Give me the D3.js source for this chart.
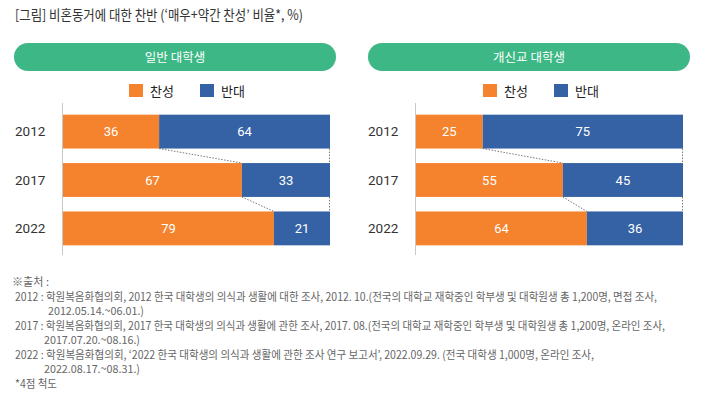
<!DOCTYPE html>
<html><head><meta charset="utf-8">
<script src="https://cdn.jsdelivr.net/npm/d3@7"></script>
<style>
body{margin:0;background:#fff;}
svg{display:block;font-family:"Noto Sans CJK KR","Noto Sans",sans-serif;}
</style></head>
<body>
<svg id="c" width="720" height="402"></svg>
<script>
const years = ["2012","2017","2022"];
const groups = ["일반 대학생","개신교 대학생"];
const agree = [[36,67,79],[25,55,64]];
const disagree = [[64,33,21],[75,45,36]];
const legendLabels = ["찬성","반대"];
const title = "[그림] 비혼동거에 대한 찬반 (‘매우+약간 찬성’ 비율*, %)";
const notes = [
  "※출처 :",
  "2012 : 학원복음화협의회, 2012 한국 대학생의 의식과 생활에 대한 조사, 2012. 10.(전국의 대학교 재학중인 학부생 및 대학원생 총 1,200명, 면접 조사,",
  "2012.05.14.~06.01.)",
  "2017 : 학원복음화협의회, 2017 한국 대학생의 의식과 생활에 관한 조사, 2017. 08.(전국의 대학교 재학중인 학부생 및 대학원생 총 1,200명, 온라인 조사,",
  "2017.07.20.~08.16.)",
  "2022 : 학원복음화협의회, ‘2022 한국 대학생의 의식과 생활에 관한 조사 연구 보고서’, 2022.09.29. (전국 대학생 1,000명, 온라인 조사,",
  "2022.08.17.~08.31.)",
  "*4점 척도"
];

const ORANGE = "#F5832D", BLUE = "#3562A4", GREEN = "#3DB785";
const svg = d3.select("#c");

svg.append("text").attr("x",15).attr("y",20).attr("font-size",13.8).attr("fill","#333")
  .attr("textLength",288).attr("lengthAdjust","spacingAndGlyphs").text(title);

const panels = [
  {pill:[14,336], axisX:62.5, range:[63,330], yearX:15, leg:[129,200]},
  {pill:[368,690], axisX:415.5, range:[416,683], yearX:368, leg:[483,554]}
];

const y = d3.scaleBand().domain(years).range([105,255]).paddingInner(0.3).paddingOuter(0.2);

panels.forEach((p,i)=>{
  const g = svg.append("g");
  g.append("rect").attr("x",p.pill[0]).attr("y",43).attr("width",p.pill[1]-p.pill[0]).attr("height",28)
    .attr("rx",14).attr("fill",GREEN);
  g.append("text").attr("x",(p.pill[0]+p.pill[1])/2).attr("y",61.5).attr("text-anchor","middle")
    .attr("fill","#fff").attr("font-size",12.5).text(groups[i]);
  [ORANGE,BLUE].forEach((c,k)=>{
    g.append("rect").attr("x",p.leg[k]).attr("y",84).attr("width",14).attr("height",13).attr("fill",c);
    g.append("text").attr("x",p.leg[k]+21).attr("y",95.5).attr("font-size",13).attr("fill","#222").text(legendLabels[k]);
  });
  const x = d3.scaleLinear().domain([0,100]).range(p.range);
  g.append("line").attr("x1",p.axisX).attr("x2",p.axisX).attr("y1",103).attr("y2",255)
    .attr("stroke","#c8c8c8").attr("stroke-width",1);
  years.forEach((yr,j)=>{
    g.append("text").attr("x",p.yearX).attr("y",y(yr)+y.bandwidth()/2+4.5)
      .attr("font-family","Roboto, 'Noto Sans', sans-serif").attr("font-weight",400)
      .attr("font-size",13.5).attr("fill","#333").text(yr);
  });
  years.forEach((yr,j)=>{
    const a = agree[i][j], d = disagree[i][j];
    g.append("rect").attr("x",x(0)).attr("y",y(yr)).attr("width",x(a)-x(0)).attr("height",y.bandwidth()).attr("fill",ORANGE);
    g.append("rect").attr("x",x(a)).attr("y",y(yr)).attr("width",x(a+d)-x(a)).attr("height",y.bandwidth()).attr("fill",BLUE);
    g.append("text").attr("x",(x(0)+x(a))/2).attr("y",y(yr)+y.bandwidth()/2+4.5).attr("text-anchor","middle")
      .attr("fill","#fff").attr("font-family","Roboto, 'Noto Sans', sans-serif").attr("font-size",13).text(a);
    g.append("text").attr("x",(x(a)+x(a+d))/2).attr("y",y(yr)+y.bandwidth()/2+4.5).attr("text-anchor","middle")
      .attr("fill","#fff").attr("font-family","Roboto, 'Noto Sans', sans-serif").attr("font-size",13).text(d);
  });
  for(let j=0;j<years.length-1;j++){
    const y0 = y(years[j])+y.bandwidth(), y1 = y(years[j+1]);
    g.append("line").attr("x1",x(agree[i][j])).attr("y1",y0).attr("x2",x(agree[i][j+1])).attr("y2",y1)
      .attr("stroke","#555").attr("stroke-width",0.8).attr("stroke-dasharray","1.5,1.5");
    g.append("line").attr("x1",x(100)-0.5).attr("y1",y0).attr("x2",x(100)-0.5).attr("y2",y1)
      .attr("stroke","#555").attr("stroke-width",0.8).attr("stroke-dasharray","1.5,1.5");
  }
});

const noteX = [12,15,48,15,44,15,44,15];
const noteW = [37,642,96,650,96,579,96,42];
notes.forEach((t,k)=>{
  svg.append("text").attr("x",noteX[k]).attr("y",286+k*14.5).attr("font-size",11.2).attr("fill","#666")
    .attr("textLength",noteW[k]).attr("lengthAdjust","spacingAndGlyphs").text(t);
});
</script>
</body></html>
